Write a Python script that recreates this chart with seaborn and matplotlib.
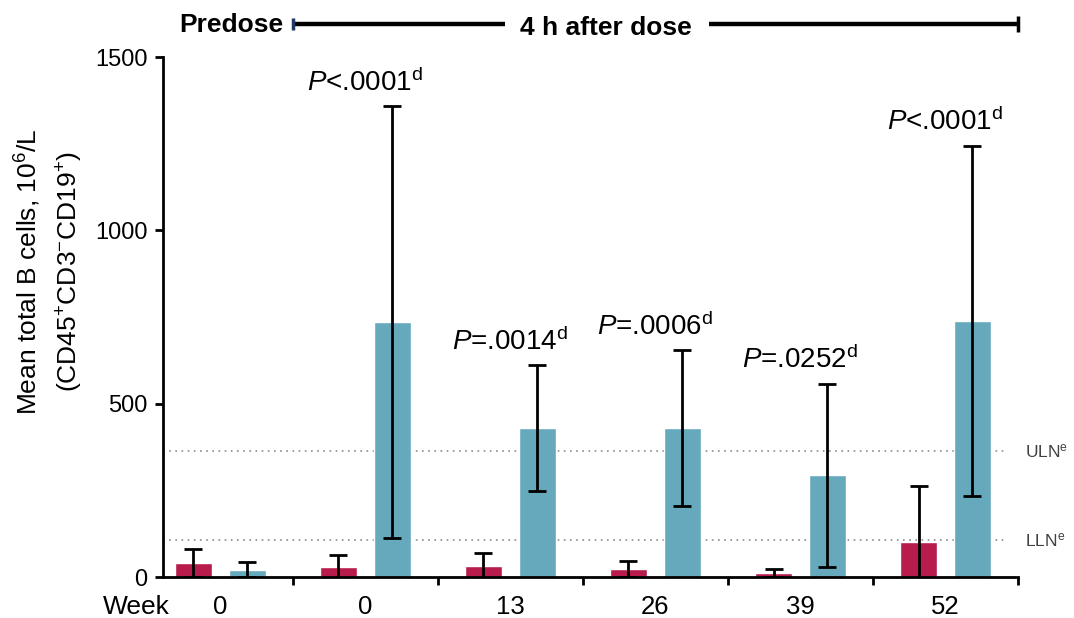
import matplotlib
matplotlib.use("Agg")
import matplotlib.pyplot as plt
import matplotlib.transforms as mtransforms
import numpy as np
import pandas as pd
import seaborn as sns

# Visits (predose baseline followed by 4-h post-dose visits) and their axis labels
timepoints = ["Predose W0", "Post W0", "Post W13", "Post W26", "Post W39", "Post W52"]
week_labels = ["0", "0", "13", "26", "39", "52"]
groups = ["Group 1", "Group 2"]

# Mean total B cells (10^6/L) and standard deviations
mean_g1 = [41, 29, 32, 23, 12, 101]
sd_g1 = [41, 35, 37, 24, 11, 162]
mean_g2 = [21, 736, 430, 430, 294, 739]
sd_g2 = [21, 623, 182, 225, 264, 505]

# Between-group comparisons per visit
p_labels = [None, "<.0001", "=.0014", "=.0006", "=.0252", "<.0001"]

# Reference range limits
uln = 364
lln = 107

RED = "#B71C4C"
BLUE = "#67A9BC"

sns.set_theme(style="ticks")
plt.rcParams["font.family"] = ["Liberation Sans", "DejaVu Sans"]
plt.rcParams["mathtext.fontset"] = "custom"
plt.rcParams["mathtext.rm"] = "Liberation Sans"
plt.rcParams["mathtext.it"] = "Liberation Sans:italic"
plt.rcParams["mathtext.bf"] = "Liberation Sans:bold"
for key in ["text.color", "axes.labelcolor", "xtick.color", "ytick.color",
            "axes.edgecolor"]:
    plt.rcParams[key] = "black"

df = pd.DataFrame({
    "timepoint": timepoints * 2,
    "group": [groups[0]] * len(timepoints) + [groups[1]] * len(timepoints),
    "mean": mean_g1 + mean_g2,
})

fig = plt.figure(figsize=(10.74, 6.18), dpi=100)
ax = fig.add_axes([163 / 1074, 41 / 618, 855 / 1074, 520 / 618])

sns.barplot(data=df, x="timepoint", y="mean", hue="group", order=timepoints,
            hue_order=groups, palette=[RED, BLUE], width=0.744, gap=0.32,
            saturation=1, errorbar=None, legend=False, ax=ax, zorder=2)

# SD error bars on top of each bar
for container, sds in zip(ax.containers, [sd_g1, sd_g2]):
    xs = [p.get_x() + p.get_width() / 2 for p in container]
    ys = [p.get_height() for p in container]
    ax.errorbar(xs, ys, yerr=sds, fmt="none", ecolor="black", elinewidth=2.0,
                capsize=6.5, capthick=2.0, zorder=3)

# Reference range lines
for val, lab in [(uln, "ULN"), (lln, "LLN")]:
    ax.axhline(val, xmin=0, xmax=0.985, color="#8c8c8c", ls=(0, (1, 2.7)),
               lw=1.2, zorder=1)
    ax.annotate(lab + r"$^{\rm e}$", xy=(1, val), xycoords=("axes fraction", "data"),
                xytext=(5, 0), textcoords="offset points", ha="left", va="center",
                fontsize=12.5, color="#404040", annotation_clip=False)

# P-value annotations above each post-dose pair
for i, lab in enumerate(p_labels):
    if lab is None:
        continue
    top = max(mean_g1[i] + sd_g1[i], mean_g2[i] + sd_g2[i])
    ax.annotate(r"$\it{P}$" + lab + r"$^{\rm d}$", xy=(i, top),
                xytext=(0, 11), textcoords="offset points",
                ha="center", va="baseline", fontsize=20)

ax.set_xlim(-0.396, 5.5)
ax.set_ylim(0, 1500)
ax.set_yticks([0, 500, 1000, 1500])
ax.set_xticks(range(len(timepoints)), week_labels)
ax.set_xticks(np.arange(0.5, len(timepoints), 1.0), minor=True)
ax.set_xlabel("")
ax.set_ylabel("")

ax.tick_params(axis="y", which="major", length=6, width=2, pad=5,
               labelsize=17, color="black", labelcolor="black")
ax.tick_params(axis="x", which="major", length=0, pad=13, labelsize=18.5,
               labelcolor="black")
ax.tick_params(axis="x", which="minor", length=6, width=2, color="black")

sns.despine(ax=ax)
for side in ["left", "bottom"]:
    ax.spines[side].set_linewidth(2.0)
    ax.spines[side].set_color("black")

ax.annotate("Week", xy=(-0.35, 0), xycoords=("data", "axes fraction"),
            xytext=(0, -13), textcoords="offset points", ha="right", va="top",
            fontsize=19)

fig.text(49 / 1074, 1 - 272 / 618,
         "Mean total B cells, 10$^{6}$/L\n(CD45$^{+}$CD3$^{-}$CD19$^{+}$)",
         rotation=90, ha="center", va="center", fontsize=19, linespacing=1.5)

# Dosing timeline header
trans = mtransforms.blended_transform_factory(ax.transData, fig.transFigure)
y_line = 1 - 24 / 618
ax.plot([0.5, 1.96], [y_line, y_line], transform=trans, color="black", lw=3.2,
        clip_on=False, solid_capstyle="butt")
ax.plot([3.37, 5.5], [y_line, y_line], transform=trans, color="black", lw=3.2,
        clip_on=False, solid_capstyle="butt")
ax.plot([0.5], [y_line], transform=trans, marker="|", ms=9, mew=2.5,
        color="#1f3864", clip_on=False)
ax.plot([5.5], [y_line], transform=trans, marker="|", ms=12, mew=2.5,
        color="black", clip_on=False)
ax.annotate("Predose", xy=(0.5, 1 - 32 / 618), xycoords=trans, xytext=(-7, 0),
            textcoords="offset points", ha="right", va="baseline",
            fontsize=19, fontweight="bold")
ax.text(2.66, 1 - 35 / 618, "4 h after dose", transform=trans, ha="center",
        va="baseline", fontsize=19, fontweight="bold")

fig.savefig("out.png", dpi=100)
